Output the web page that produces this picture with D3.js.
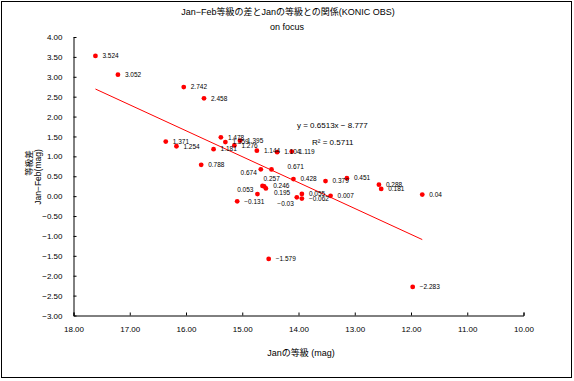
<!DOCTYPE html>
<html><head><meta charset="utf-8">
<script src="https://cdn.jsdelivr.net/npm/d3@7"></script>
<style>
html,body{margin:0;padding:0;background:#fff;}
svg text{font-family:"Liberation Sans","Noto Sans CJK JP",sans-serif;fill:#000;}
</style></head>
<body><svg id="c" width="574" height="381"></svg>
<script>
// ---- data ----
const janMag = [17.61,17.21,16.04,15.68,16.36,16.17,15.51,15.38,15.30,15.04,15.14,14.74,14.38,14.12,15.73,14.67,14.48,14.09,13.52,13.14,14.64,14.61,14.58,14.73,13.94,13.43,14.03,13.94,15.09,12.57,12.53,11.80,11.97,14.53];
const magDiff = [3.524,3.052,2.742,2.458,1.371,1.254,1.181,1.478,1.359,1.395,1.276,1.144,1.104,1.119,0.788,0.674,0.671,0.428,0.379,0.451,0.257,0.246,0.195,0.053,0.055,0.007,-0.03,-0.062,-0.131,0.288,0.181,0.04,-2.283,-1.579];
const xTicks = [18,17,16,15,14,13,12,11,10];
const yTicks = [4,3.5,3,2.5,2,1.5,1,0.5,0,-0.5,-1,-1.5,-2,-2.5,-3];
const trendCoef = [0.6513, -8.777]; // slope, intercept
const rSquared = 0.5711;
const titleLines = ["Jan−Feb等級の差とJanの等級との関係(KONIC OBS)","on focus"];
const xTitle = "Janの等級 (mag)";
const yTitleLines = ["等級差","Jan−Feb(mag)"];
// label placement nudges (index -> [dx, dy, anchor])
const labelNudge = {15:[-4,3,"end"],16:[16,-3,"start"],20:[1,-7,"start"],21:[9,-1,"start"],22:[8,4,"start"],23:[-4,-4,"end"],26:[-3,6,"end"]};

const svg = d3.select("#c");
svg.append("rect").attr("x",1.5).attr("y",1.5).attr("width",570).attr("height",376)
  .attr("fill","none").attr("stroke","#000").attr("stroke-width",1);

const x = d3.scaleLinear().domain([18,10]).range([73.5,523.5]);
const y = d3.scaleLinear().domain([-3,4]).range([315.5,37]);

// axes
const xAxis = d3.axisBottom(x).tickValues(xTicks).tickSizeInner(-3).tickSizeOuter(-3).tickPadding(11)
  .tickFormat(d3.format(".2f"));
const gx = svg.append("g").attr("transform","translate(0,315.5)").call(xAxis);
gx.select(".domain").attr("stroke","#000");
gx.selectAll("text").attr("font-size","8px");

const yAxis = d3.axisLeft(y).tickValues(yTicks).tickSizeInner(-3).tickSizeOuter(0).tickPadding(11)
  .tickFormat(d3.format(".2f"));
const gy = svg.append("g").attr("transform","translate(73.5,0)").call(yAxis);
gy.select(".domain").attr("stroke","#000");
gy.selectAll("text").attr("font-size","8px");

// linear trend line over the data range
const ext = d3.extent(janMag);
const f = m => trendCoef[0]*m + trendCoef[1];
svg.append("line")
  .attr("x1",x(ext[1])).attr("y1",y(f(ext[1])))
  .attr("x2",x(ext[0])).attr("y2",y(f(ext[0])))
  .attr("stroke","#ff0000").attr("stroke-width",1);

// points
const pts = janMag.map((m,i)=>({m, v:magDiff[i], i}));
svg.append("g").selectAll("circle").data(pts).join("circle")
  .attr("cx",d=>x(d.m)).attr("cy",d=>y(d.v)).attr("r",2.4).attr("fill","#ff0000");

// point labels
svg.append("g").selectAll("text").data(pts).join("text")
  .attr("x",d=>x(d.m)+(labelNudge[d.i]?labelNudge[d.i][0]:7))
  .attr("y",d=>y(d.v)+(labelNudge[d.i]?labelNudge[d.i][1]:0))
  .attr("dy","0.35em")
  .attr("text-anchor",d=>labelNudge[d.i]?labelNudge[d.i][2]:"start")
  .attr("font-size","6.5px")
  .style("font-family",'"Liberation Sans Narrow","Liberation Sans",sans-serif')
  .text(d=>String(d.v).replace("-","−"));

// equation
svg.append("text").attr("x",297).attr("y",128).attr("font-size","8px")
  .text(`y = ${trendCoef[0]}x − ${Math.abs(trendCoef[1])}`);
svg.append("text").attr("x",312).attr("y",145).attr("font-size","8px")
  .text(`R² = ${rSquared}`);

// titles
svg.append("text").attr("x",288).attr("y",15).attr("text-anchor","middle").attr("font-size","9px").text(titleLines[0]);
svg.append("text").attr("x",287).attr("y",30).attr("text-anchor","middle").attr("font-size","9px").text(titleLines[1]);
svg.append("text").attr("x",301).attr("y",356).attr("text-anchor","middle").attr("font-size","9px").text(xTitle);
svg.append("text").attr("transform","translate(32,163) rotate(-90)").attr("text-anchor","middle").attr("font-size","8.5px").text(yTitleLines[0]);
svg.append("text").attr("transform","translate(41,177) rotate(-90)").attr("text-anchor","middle").attr("font-size","8.5px").text(yTitleLines[1]);
</script></body></html>
